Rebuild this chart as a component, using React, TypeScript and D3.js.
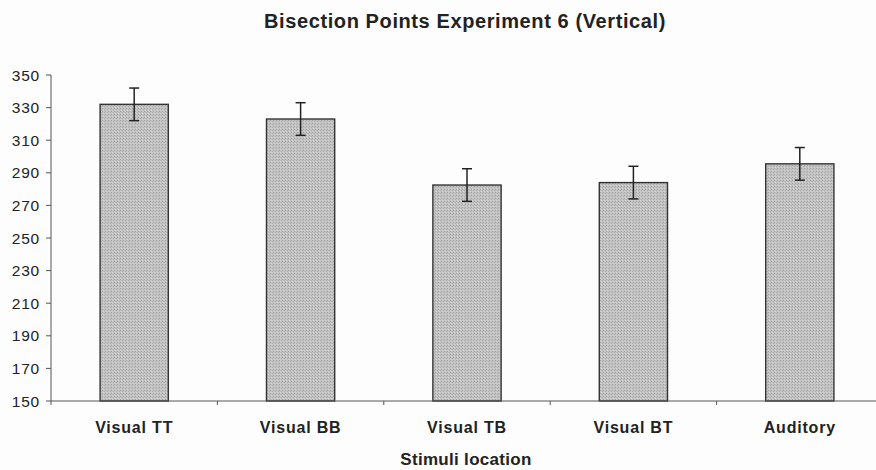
import React from "react";
import * as d3 from "d3";

const categories = ["Visual TT", "Visual BB", "Visual TB", "Visual BT", "Auditory"];
const means = [332, 323, 282.5, 284, 295.5];
const errors = [10, 10, 10, 10, 10];
const yTicks = [150, 170, 190, 210, 230, 250, 270, 290, 310, 330, 350];

const W = 876;
const H = 470;
const left = 51;
const right = 883;
const top = 75;
const bottom = 401;

export default function App() {
  const x = d3.scaleBand<string>().domain(categories).range([left, right]).paddingInner(0.59).paddingOuter(0.295);
  const y = d3.scaleLinear().domain([150, 350]).range([bottom, top]);
  const bw = x.bandwidth();
  const font = "Arial, 'Liberation Sans', Helvetica, sans-serif";
  const boundaries = d3.range(categories.length + 1).map((i) => left + i * ((right - left) / categories.length));

  return (
    <svg width={W} height={H} style={{ position: "absolute", left: 0, top: 0, background: "#fff" }} fontFamily={font}>
      <defs>
        <pattern id="stip" width="3" height="3" patternUnits="userSpaceOnUse">
          <rect width="3" height="3" fill="#c2c2c2" />
          <rect x="0" y="0" width="1" height="1" fill="#a4a4a4" />
          <rect x="2" y="1" width="1" height="1" fill="#afafaf" />
          <rect x="1" y="2" width="1" height="1" fill="#d4d4d4" />
        </pattern>
      </defs>
      <rect width={W} height={H} fill="#fdfdfd" />
      <text x={465} y={28} textAnchor="middle" fontSize={20} fontWeight="bold" fill="#222" letterSpacing={0.6}>
        Bisection Points Experiment 6 (Vertical)
      </text>
      {categories.map((c, i) => {
        const x0 = x(c)!;
        const cx = x0 + bw / 2;
        return (
          <g key={c}>
            <rect x={x0} y={y(means[i])} width={bw} height={bottom - y(means[i])} fill="url(#stip)" stroke="#333" strokeWidth={1.4} />
            <line x1={cx} x2={cx} y1={y(means[i] + errors[i])} y2={y(means[i] - errors[i])} stroke="#222" strokeWidth={1.5} />
            <line x1={cx - 5} x2={cx + 5} y1={y(means[i] + errors[i])} y2={y(means[i] + errors[i])} stroke="#222" strokeWidth={1.5} />
            <line x1={cx - 5} x2={cx + 5} y1={y(means[i] - errors[i])} y2={y(means[i] - errors[i])} stroke="#222" strokeWidth={1.5} />
            <text x={cx} y={433} textAnchor="middle" fontSize={16} fontWeight="bold" fill="#222" letterSpacing={0.8}>
              {c}
            </text>
          </g>
        );
      })}
      <line x1={left} x2={left} y1={top} y2={bottom} stroke="#555" strokeWidth={1} />
      {yTicks.map((t) => (
        <g key={t}>
          <line x1={left - 5} x2={left} y1={y(t)} y2={y(t)} stroke="#555" />
          <text x={40} y={y(t) + 5.5} textAnchor="end" fontSize={15.5} fill="#222" letterSpacing={0.8}>
            {t}
          </text>
        </g>
      ))}
      <line x1={left} x2={W} y1={bottom} y2={bottom} stroke="#555" strokeWidth={1} />
      {boundaries.map((b, i) => (
        <line key={i} x1={b} x2={b} y1={bottom} y2={bottom + 4} stroke="#555" />
      ))}
      <text x={466} y={465} textAnchor="middle" fontSize={17} fontWeight="bold" fill="#222" letterSpacing={0.3}>
        Stimuli location
      </text>
    </svg>
  );
}
